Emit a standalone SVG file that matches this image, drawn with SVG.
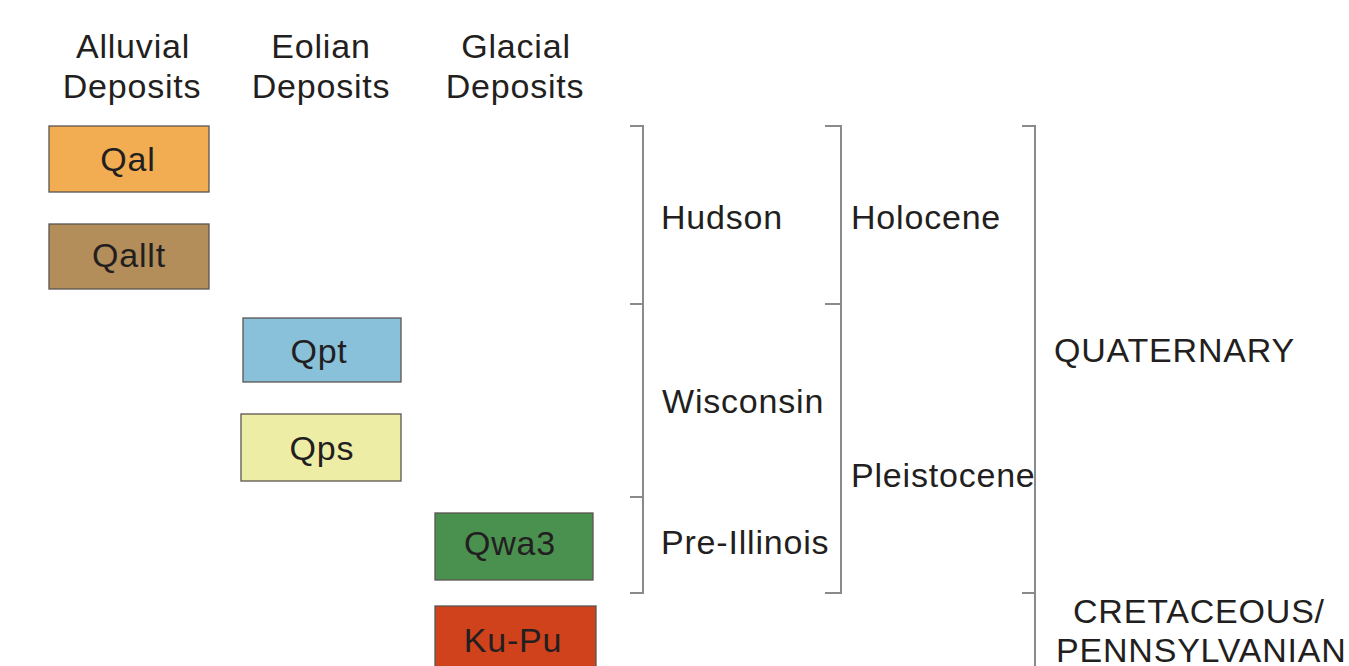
<svg xmlns="http://www.w3.org/2000/svg" width="1349" height="666" viewBox="0 0 1349 666">
<style>
text{font-family:"Liberation Sans",Arial,sans-serif;font-size:34px;fill:#231f20;letter-spacing:0.8px}
.c{text-anchor:middle}
.box{stroke:#5a5550;stroke-width:1.3}
.br{fill:none;stroke:#8a8a8a;stroke-width:2}
</style>
<rect width="1349" height="666" fill="#fff"/>
<g id="headers">
<text class="c" x="133" y="58">Alluvial</text>
<text class="c" x="132" y="98">Deposits</text>
<text class="c" x="321" y="58">Eolian</text>
<text class="c" x="321" y="98">Deposits</text>
<text class="c" x="516" y="58">Glacial</text>
<text class="c" x="515" y="98">Deposits</text>
</g>
<g id="Qal"><rect class="box" x="49" y="126" width="160" height="66" fill="#f2ad52"/><text class="c" x="128" y="171">Qal</text></g>
<g id="Qallt"><rect class="box" x="49" y="224" width="160" height="65" fill="#b38e5a"/><text class="c" x="129" y="267">Qallt</text></g>
<g id="Qpt"><rect class="box" x="243" y="318" width="158" height="64" fill="#88c1d9"/><text class="c" x="319" y="363">Qpt</text></g>
<g id="Qps"><rect class="box" x="241" y="414" width="160" height="67" fill="#ededa6"/><text class="c" x="322" y="460">Qps</text></g>
<g id="Qwa3"><rect class="box" x="435" y="513" width="158" height="67" fill="#4a9150"/><text class="c" x="510" y="555">Qwa3</text></g>
<g id="KuPu"><rect class="box" x="435" y="606" width="161" height="70" fill="#d0421c"/><text class="c" x="513" y="652">Ku-Pu</text></g>
<g id="connectors">
<path class="br" d="M630 126H643V593H630M630 304H643M630 497H643"/>
<path class="br" d="M825 126H841V593H825M825 304H841"/>
<path class="br" d="M1022 126H1035V676M1022 593H1035"/>
</g>
<g id="labels">
<text x="661" y="229">Hudson</text>
<text x="662" y="413">Wisconsin</text>
<text x="661" y="554">Pre-Illinois</text>
<text x="851" y="229">Holocene</text>
<text x="851" y="487">Pleistocene</text>
<text x="1054" y="362">QUATERNARY</text>
<text x="1073" y="623">CRETACEOUS/</text>
<text x="1056" y="662">PENNSYLVANIAN</text>
</g>
</svg>
